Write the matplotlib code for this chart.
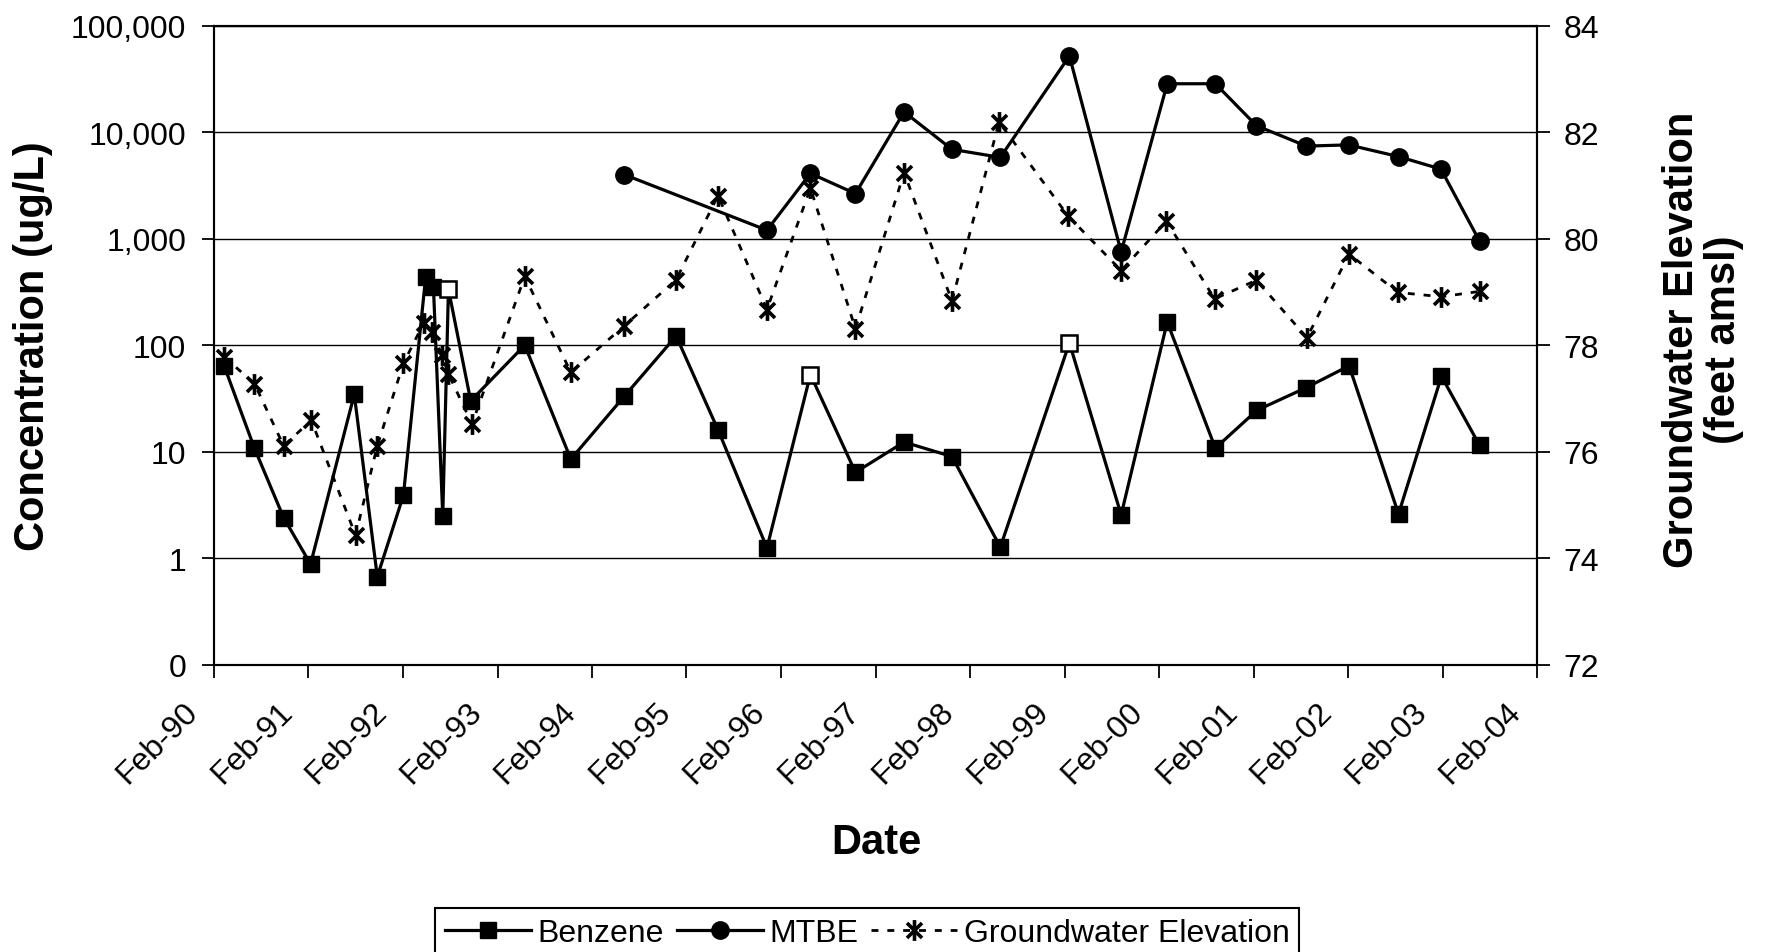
import numpy as np, pandas as pd
import matplotlib
matplotlib.use('Agg')
import matplotlib.pyplot as plt
import matplotlib.dates as mdates
from matplotlib.path import Path
from matplotlib.ticker import FixedLocator, FixedFormatter
from matplotlib.transforms import ScaledTranslation

plt.rcParams.update({
    'font.family': 'Liberation Sans', 'font.size': 23,
    'axes.linewidth': 1.5, 'xtick.major.width': 1.3, 'ytick.major.width': 1.3,
})

# ---- data ----
benz_dates = ['1990-03-12', '1990-07-07', '1990-10-28', '1991-02-09', '1991-07-28', '1991-10-25',
              '1992-02-03', '1992-04-29', '1992-05-29', '1992-07-04', '1992-07-26', '1992-10-20',
              '1993-05-17', '1993-11-11', '1994-06-05', '1994-12-23', '1995-06-03', '1995-12-09',
              '1996-05-25', '1996-11-15', '1997-05-22', '1997-11-23', '1998-05-29', '1999-02-20',
              '1999-09-08', '2000-03-04', '2000-09-06', '2001-02-14', '2001-08-24', '2002-02-05',
              '2002-08-15', '2003-01-28', '2003-06-24']
benz_vals = [64, 10.8, 2.4, 0.88, 34.5, 0.67, 3.9, 440, 350, 2.5, 335, 30,
             100, 8.5, 33, 122, 16, 1.25, 53, 6.4, 12.3, 9.0, 1.27, 105,
             2.55, 165, 10.8, 24.5, 40, 64, 2.6, 51, 11.5]
benz_open = [0, 0, 0, 0, 0, 0, 0, 0, 0, 0, 1, 0, 0, 0, 0, 0, 0, 0, 1, 0, 0, 0, 0, 1,
             0, 0, 0, 0, 0, 0, 0, 0, 0]

mtbe_dates = ['1994-06-05', '1995-12-09', '1996-05-25', '1996-11-15', '1997-05-22', '1997-11-23',
              '1998-05-29', '1999-02-20', '1999-09-08', '2000-03-04', '2000-09-06', '2001-02-12',
              '2001-08-24', '2002-02-03', '2002-08-15', '2003-01-26', '2003-06-24']
mtbe_vals = [4000, 1200, 4100, 2650, 15500, 6900, 5800, 52000, 750, 28500, 28500, 11500,
             7400, 7600, 5900, 4500, 950]

gw_dates = ['1990-03-12', '1990-07-07', '1990-10-28', '1991-02-12', '1991-08-02', '1991-10-25',
            '1992-02-03', '1992-04-21', '1992-05-24', '1992-06-30', '1992-07-26', '1992-10-25',
            '1993-05-17', '1993-11-11', '1994-06-05', '1994-12-23', '1995-06-03', '1995-12-09',
            '1996-05-25', '1996-11-15', '1997-05-22', '1997-11-23', '1998-05-24', '1999-02-16',
            '1999-09-08', '2000-03-01', '2000-09-03', '2001-02-12', '2001-08-26', '2002-02-05',
            '2002-08-13', '2003-01-28', '2003-06-24']
gw_vals = [77.78, 77.28, 76.11, 76.59, 74.43, 76.11, 77.66, 78.41, 78.24, 77.82, 77.46, 76.52,
           79.29, 77.49, 78.36, 79.23, 80.81, 78.67, 80.95, 78.31, 81.24, 78.83, 82.19, 80.42,
           79.40, 80.33, 78.87, 79.22, 78.14, 79.71, 78.99, 78.91, 79.01]

conc_ticks = [0.1, 1, 10, 100, 1000, 10000, 100000]
conc_labels = ['0', '1', '10', '100', '1,000', '10,000', '100,000']
elev_ticks = [72, 74, 76, 78, 80, 82, 84]

bd = pd.to_datetime(benz_dates); md = pd.to_datetime(mtbe_dates); gd = pd.to_datetime(gw_dates)
bv = np.array(benz_vals); nd = np.array(benz_open, bool)

# Excel-style asterisk marker: X plus a vertical bar
d = 0.72
STAR = Path([(0, -1), (0, 1), (-d, -d), (d, d), (-d, d), (d, -d)],
            [Path.MOVETO, Path.LINETO] * 3)

fig = plt.figure(figsize=(17.66, 9.53), dpi=100)
ax = fig.add_axes([0.1212, 0.3015, 0.7491, 0.6705])
ax2 = ax.twinx()

lb, = ax.plot(bd, bv, 's-', color='black', lw=2.3, ms=12, label='Benzene')
ax.plot(bd[nd], bv[nd], 's', ms=11, mfc='white', mec='black', mew=1.8, ls='none')
lm, = ax.plot(md, mtbe_vals, 'o-', color='black', lw=2.3, ms=12.5, label='MTBE')
lg, = ax2.plot(gd, gw_vals, color='black', lw=2.0, ls=(0, (2.5, 3.2)), marker=STAR,
               ms=15, mew=2.6, mfc='none', label='Groundwater Elevation')

ax.set_yscale('log')
ax.set_ylim(0.1, 100000)
ax.yaxis.set_major_locator(FixedLocator(conc_ticks))
ax.yaxis.set_major_formatter(FixedFormatter(conc_labels))
ax.yaxis.set_minor_locator(FixedLocator([]))
ax.grid(axis='y', color='black', lw=1.0)
ax.set_xlim(pd.Timestamp('1990-02-01'), pd.Timestamp('2004-02-01'))
ax.xaxis.set_major_locator(mdates.MonthLocator(bymonth=2, bymonthday=1))
ax.xaxis.set_major_formatter(mdates.DateFormatter('%b-%y'))
ax.tick_params(axis='y', direction='out', length=9, pad=11, labelsize=23)
ax.tick_params(axis='x', direction='out', length=9, pad=14, labelsize=23)
off = ScaledTranslation(-0.10, 0, fig.dpi_scale_trans)
for t in ax.get_xticklabels():
    t.set_rotation(45); t.set_ha('right'); t.set_va('top')
    t.set_transform(t.get_transform() + off)

ax2.set_ylim(72, 84)
ax2.set_yticks(elev_ticks)
ax2.tick_params(axis='y', direction='out', length=9, pad=10, labelsize=23)

ax.set_ylabel('Concentration (ug/L)', fontsize=30, fontweight='bold')
ax.yaxis.set_label_coords(-0.1217, 0.5)
ax2.set_ylabel('Groundwater Elevation\n(feet amsl)', fontsize=30, fontweight='bold',
               linespacing=1.05)
ax2.yaxis.set_label_coords(1.0945, 0.51)
ax.set_xlabel('Date', fontsize=30, fontweight='bold')
ax.xaxis.set_label_coords(0.501, -0.246)

leg = fig.legend(handles=[lb, lm, lg], loc='center', bbox_to_anchor=(0.491, 0.020), ncol=3,
                 frameon=True, fancybox=False, edgecolor='black', framealpha=1, fontsize=23,
                 handlelength=2.7, handletextpad=0.2, columnspacing=0.4, borderpad=0.3)
leg.get_frame().set_linewidth(1.5)

fig.savefig('out.png', dpi=100)
